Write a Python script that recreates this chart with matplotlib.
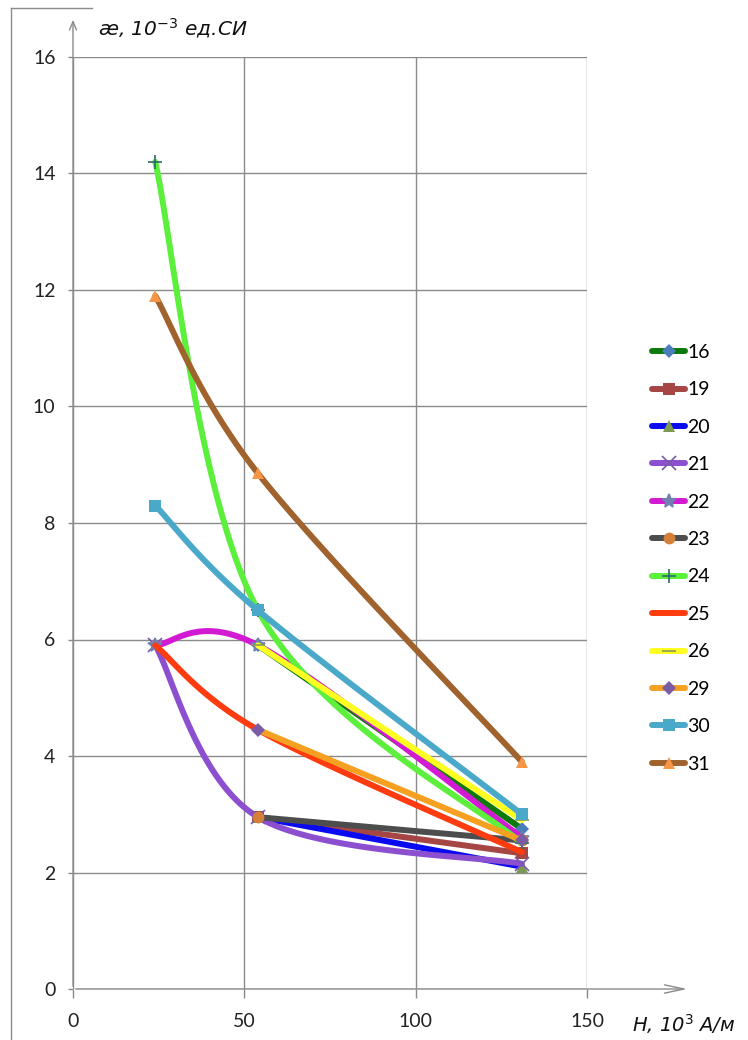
import numpy as np
import matplotlib
matplotlib.use('Agg')
import matplotlib.pyplot as plt
from matplotlib.lines import Line2D

nan = np.nan
# --- data ---
H = [24, 54, 131]
names = ['16', '19', '20', '21', '22', '23', '24', '25', '26', '29', '30', '31']
s16 = [nan, 5.9, 2.75]
s19 = [nan, 2.95, 2.33]
s20 = [nan, 2.95, 2.1]
s21 = [5.9, 2.95, 2.15]
s22 = [5.9, 5.9, 2.6]
s23 = [nan, 2.95, 2.55]
s24 = [14.2, 6.5, 2.5]
s25 = [5.9, 4.45, 2.35]
s26 = [nan, 5.9, 2.9]
s29 = [nan, 4.45, 2.55]
s30 = [8.3, 6.5, 3.0]
s31 = [11.9, 8.85, 3.9]
values = [s16, s19, s20, s21, s22, s23, s24, s25, s26, s29, s30, s31]
xticks = [0, 50, 100, 150]
yticks = [0, 2, 4, 6, 8, 10, 12, 14, 16]

# styles: line colour, marker, marker face colour
styles = [
    ('#0b7a0b', 'D', '#4a7ebb'),
    ('#a54645', 's', '#a54645'),
    ('#0a0af0', '^', '#7d9a55'),
    ('#8b4fcf', 'x', '#7a5aa8'),
    ('#d21ad2', '*', '#7080b0'),
    ('#4d4d4d', 'o', '#d4803a'),
    ('#5cf03c', '+', '#2d6a6a'),
    ('#ff3c0f', None, None),
    ('#ffff22', '_', '#8a9a50'),
    ('#f5a020', 'D', '#7b5aa6'),
    ('#4aa8c8', 's', '#4aa8c8'),
    ('#a0632e', '^', '#f79646'),
]

plt.rcParams['font.family'] = ['Lato', 'DejaVu Sans']


def smooth(xs, ys, n=60):
    pts = [(x, y) for x, y in zip(xs, ys) if not np.isnan(y)]
    P = np.array(pts, dtype=float)
    if len(P) < 3:
        return P[:, 0], P[:, 1]
    out = []
    m = len(P)
    for i in range(m - 1):
        p0 = P[i - 1] if i > 0 else P[i]
        p1 = P[i]
        p2 = P[i + 1]
        p3 = P[i + 2] if i + 2 < m else P[i + 1]
        c1 = p1 + (p2 - p0) / 6.0
        c2 = p2 - (p3 - p1) / 6.0
        t = np.linspace(0, 1, n)[:, None]
        b = ((1 - t) ** 3) * p1 + 3 * ((1 - t) ** 2) * t * c1 + 3 * (1 - t) * t ** 2 * c2 + t ** 3 * p2
        out.append(b if i == 0 else b[1:])
    B = np.vstack(out)
    return B[:, 0], B[:, 1]


def msize(mk):
    if mk in ('x', '+', '*', '_'):
        return 10
    if mk == 'D':
        return 7.5
    return 8.5


W, Hpx = 748, 1040
fig = plt.figure(figsize=(W / 100, Hpx / 100), dpi=100)
x0, x1 = 73, 587
y0, y1 = 989, 57
ax = fig.add_axes([x0 / W, 1 - y0 / Hpx, (x1 - x0) / W, (y0 - y1) / Hpx])
ax.set_xlim(0, 150)
ax.set_ylim(0, 16)
for s in ax.spines.values():
    s.set_visible(False)
ax.set_xticks(xticks)
ax.set_yticks(yticks)
ax.grid(True, color='#8a8a8a', lw=1.0)
ax.set_axisbelow(True)
ax.tick_params(axis='x', direction='out', length=6.5, width=1.0, color='#8a8a8a',
               labelsize=14, pad=11, labelcolor='#222222')
ax.tick_params(axis='y', direction='out', length=3.6, width=1.0, color='#8a8a8a',
               labelsize=14, pad=9, labelcolor='#222222')

LW = 4.3
handles = []
for k, (name, ys, (lc, mk, mc)) in enumerate(zip(names, values, styles)):
    sx, sy = smooth(H, ys)
    ax.plot(sx, sy, color=lc, lw=LW, solid_capstyle='round', zorder=3 + 2 * k, clip_on=False)
    mew = 1.2 if mk in ('x', '+', '*', '_') else 0
    if mk is not None:
        xs = [x for x, y in zip(H, ys) if not np.isnan(y)]
        yv = [y for y in ys if not np.isnan(y)]
        ax.plot(xs, yv, ls='none', marker=mk, ms=msize(mk), mfc=mc, mec=mc, mew=mew,
                zorder=4 + 2 * k, clip_on=False)
    handles.append(Line2D([], [], color=lc, lw=LW, marker=mk, ms=(msize(mk) if mk else 0),
                          mfc=mc, mec=mc, mew=mew, solid_capstyle='round'))

fig.legend(handles, names, loc='upper left', bbox_to_anchor=(652 / W, 1 - 344 / Hpx),
           frameon=False, fontsize=14, handlelength=1.7, handletextpad=0.12,
           labelspacing=1.05, borderpad=0, borderaxespad=0, numpoints=1)

# axis arrows
fig.add_artist(matplotlib.patches.FancyArrowPatch(
    (x0 / W, 1 - y0 / Hpx), (x0 / W, 1 - 17 / Hpx), transform=fig.transFigure,
    arrowstyle='->,head_length=6,head_width=2.5', color='#8a8a8a', lw=1.0, mutation_scale=1))
fig.add_artist(matplotlib.patches.FancyArrowPatch(
    (x0 / W, 1 - y0 / Hpx), (690 / W, 1 - y0 / Hpx), transform=fig.transFigure,
    arrowstyle='->,head_length=14,head_width=3', color='#8a8a8a', lw=1.0, mutation_scale=1))

# chart area border fragments
fig.add_artist(Line2D([11 / W, 11 / W], [1 - 8 / Hpx, 0], transform=fig.transFigure,
                      color='#8a8a8a', lw=1.0))
fig.add_artist(Line2D([11 / W, 92 / W], [1 - 8 / Hpx, 1 - 8 / Hpx], transform=fig.transFigure,
                      color='#8a8a8a', lw=1.0))

# axis titles
fig.text(98 / W, 1 - 28 / Hpx, 'æ, 10$^{\\mathit{-3}}$ ед.СИ', fontsize=14.5, style='italic',
         family='DejaVu Sans', va='center', ha='left', color='#111111')
fig.text(632 / W, 1 - 1024 / Hpx, 'H, 10$^{\\mathit{3}}$ A/м', fontsize=14, style='italic',
         family='DejaVu Sans', va='center', ha='left', color='#111111')

fig.savefig('out.png', dpi=100, facecolor='white')
